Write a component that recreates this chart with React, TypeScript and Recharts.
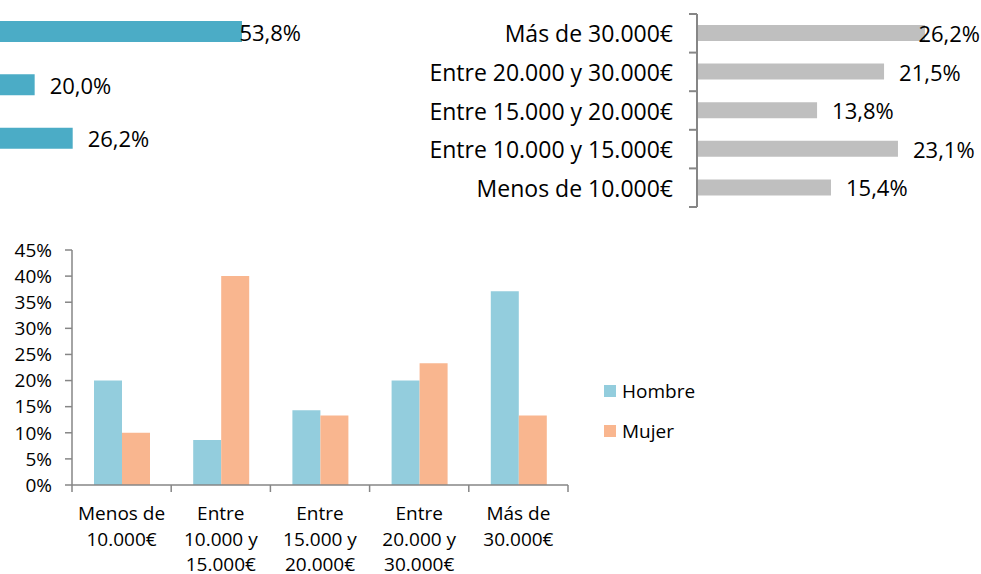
import React from 'react';
import { BarChart, Bar, XAxis, YAxis, LabelList, Legend } from 'recharts';

const FONT = '"Open Sans", sans-serif';
const COLOR_TEAL = '#4BACC6';
const COLOR_GREY = '#BFBFBF';
const COLOR_HOMBRE = '#93CDDD';
const COLOR_MUJER = '#F9B68F';
const COLOR_AXIS = '#868686';
const COLOR_TEXT = '#000';

// top-left chart: its category names are cut off in the picture
const partialCategories = ['Categoría 1', 'Categoría 2', 'Categoría 3'];
const partialValues = [53.8, 20.0, 26.2];

// income brackets, lowest first
const incomeBrackets = [
  'Menos de 10.000€',
  'Entre 10.000 y 15.000€',
  'Entre 15.000 y 20.000€',
  'Entre 20.000 y 30.000€',
  'Más de 30.000€',
];
const incomeTotal = [15.4, 23.1, 13.8, 21.5, 26.2];
const hombreValues = [20.0, 8.6, 14.3, 20.0, 37.1];
const mujerValues = [10.0, 40.0, 13.3, 23.3, 13.3];

// wrapped x tick labels for the bottom chart
const bracketTickLines = [
  ['Menos de', '10.000€'],
  ['Entre', '10.000 y', '15.000€'],
  ['Entre', '15.000 y', '20.000€'],
  ['Entre', '20.000 y', '30.000€'],
  ['Más de', '30.000€'],
];
const percentTicks = [0, 5, 10, 15, 20, 25, 30, 35, 40, 45];

const partialData = partialCategories.map((name, i) => ({ name, value: partialValues[i] }));
// horizontal chart shows highest bracket at the top
const totalData = incomeBrackets.map((name, i) => ({ name, value: incomeTotal[i] })).reverse();
const sexData = incomeBrackets.map((name, i) => ({
  name,
  Hombre: hombreValues[i],
  Mujer: mujerValues[i],
}));

const fmtPct = (v: number) => v.toFixed(1).replace('.', ',') + '%';

// value label right of the bar, pushed back inside when it would run off the edge
const makeValueLabel = (rightLimit: number, fontSize: number) => (props: any) => {
  const { x, y, width, height, value } = props;
  const text = fmtPct(Number(value));
  const est = text.length * fontSize * 0.57;
  let tx = Number(x) + Number(width) + 15;
  let anchor: 'start' | 'end' = 'start';
  if (tx + est > rightLimit) {
    tx = rightLimit;
    anchor = 'end';
  }
  return (
    <text
      x={tx}
      y={Number(y) + Number(height) / 2}
      textAnchor={anchor}
      dominantBaseline="central"
      fontSize={fontSize}
      fontFamily={FONT}
      fill={COLOR_TEXT}
    >
      {text}
    </text>
  );
};

// category tick with tick marks on the band edges (Excel style)
const BracketTick = (props: any) => {
  const { x, y, payload, index, visibleTicksCount } = props;
  const half = payload.offset || 19.3;
  const last = index === (visibleTicksCount ?? 5) - 1;
  return (
    <g>
      <line x1={x - 8} x2={x} y1={y - half} y2={y - half} stroke={COLOR_AXIS} strokeWidth={2} />
      {last && <line x1={x - 8} x2={x} y1={y + half} y2={y + half} stroke={COLOR_AXIS} strokeWidth={2} />}
      <text
        x={x - 24}
        y={y}
        textAnchor="end"
        dominantBaseline="central"
        fontSize={23}
        fontFamily={FONT}
        fill={COLOR_TEXT}
      >
        {payload.value}
      </text>
    </g>
  );
};

const WrappedTick = (props: any) => {
  const { x, y, payload, index, visibleTicksCount } = props;
  const half = payload.offset || 49.6;
  const last = index === (visibleTicksCount ?? 5) - 1;
  const lines = bracketTickLines[index] || [payload.value];
  return (
    <g>
      <line x1={x - half} x2={x - half} y1={y} y2={y + 7} stroke={COLOR_AXIS} strokeWidth={1.5} />
      {last && <line x1={x + half} x2={x + half} y1={y} y2={y + 7} stroke={COLOR_AXIS} strokeWidth={1.5} />}
      <text textAnchor="middle" fontSize={19} fontFamily={FONT} fill={COLOR_TEXT}>
        {lines.map((line: string, i: number) => (
          <tspan key={i} x={x} y={y + 35 + i * 25.5}>
            {line}
          </tspan>
        ))}
      </text>
    </g>
  );
};

const renderLegend = (props: any) => (
  <div style={{ fontFamily: FONT, fontSize: 19, color: COLOR_TEXT }}>
    {(props.payload || []).map((entry: any) => (
      <div key={entry.value} style={{ display: 'flex', alignItems: 'center', height: 24, marginBottom: 16 }}>
        <span style={{ display: 'inline-block', width: 12, height: 12, background: entry.color, marginRight: 6 }} />
        <span>{entry.value}</span>
      </div>
    ))}
  </div>
);

export default function App() {
  return (
    <div
      style={{
        position: 'absolute',
        left: 0,
        top: 0,
        width: 981,
        height: 574,
        overflow: 'hidden',
        background: '#fff',
        fontFamily: FONT,
      }}
    >
      {/* top-left, cropped on the left */}
      <div style={{ position: 'absolute', left: -88, top: 0 }}>
        <BarChart
          width={400}
          height={165}
          layout="vertical"
          data={partialData}
          margin={{ top: 5, right: 32, bottom: 0, left: 0 }}
        >
          <XAxis type="number" domain={[0, 60]} hide />
          <YAxis type="category" dataKey="name" hide />
          <Bar dataKey="value" fill={COLOR_TEAL} barSize={21} isAnimationActive={false}>
            <LabelList dataKey="value" content={makeValueLabel(389, 22)} />
          </Bar>
        </BarChart>
      </div>

      {/* top-right, total by income */}
      <div style={{ position: 'absolute', left: 400, top: 0 }}>
        <BarChart
          width={581}
          height={215}
          layout="vertical"
          data={totalData}
          margin={{ top: 14, right: 23, bottom: 8, left: 0 }}
        >
          <XAxis type="number" domain={[0, 30]} hide />
          <YAxis
            type="category"
            dataKey="name"
            width={297}
            axisLine={{ stroke: COLOR_AXIS, strokeWidth: 2 }}
            tickLine={false}
            tickSize={0}
            tickMargin={0}
            interval={0}
            tick={<BracketTick />}
          />
          <Bar dataKey="value" fill={COLOR_GREY} barSize={16} isAnimationActive={false}>
            <LabelList dataKey="value" content={makeValueLabel(580, 22)} />
          </Bar>
        </BarChart>
      </div>

      {/* bottom, by sex */}
      <div style={{ position: 'absolute', left: 0, top: 240 }}>
        <BarChart
          width={981}
          height={334}
          data={sexData}
          barGap={0}
          margin={{ top: 10, right: 413, bottom: 0, left: 0 }}
        >
          <XAxis
            dataKey="name"
            height={89}
            axisLine={{ stroke: COLOR_AXIS, strokeWidth: 1.5 }}
            tickLine={false}
            tickSize={0}
            tickMargin={0}
            interval={0}
            tick={<WrappedTick />}
          />
          <YAxis
            type="number"
            domain={[0, 45]}
            ticks={percentTicks}
            interval={0}
            width={72}
            tickFormatter={(v: number) => `${v}%`}
            axisLine={{ stroke: COLOR_AXIS, strokeWidth: 1.5 }}
            tickLine={{ stroke: COLOR_AXIS, strokeWidth: 1.5 }}
            tickSize={7}
            tickMargin={13}
            tick={{ fill: COLOR_TEXT, fontSize: 19, fontFamily: FONT }}
          />
          <Legend
            layout="vertical"
            align="center"
            verticalAlign="middle"
            content={renderLegend}
            wrapperStyle={{ left: 604, top: 139, width: 120 }}
          />
          <Bar dataKey="Hombre" name="Hombre" fill={COLOR_HOMBRE} barSize={28} isAnimationActive={false} />
          <Bar dataKey="Mujer" name="Mujer" fill={COLOR_MUJER} barSize={28} isAnimationActive={false} />
        </BarChart>
      </div>
    </div>
  );
}
